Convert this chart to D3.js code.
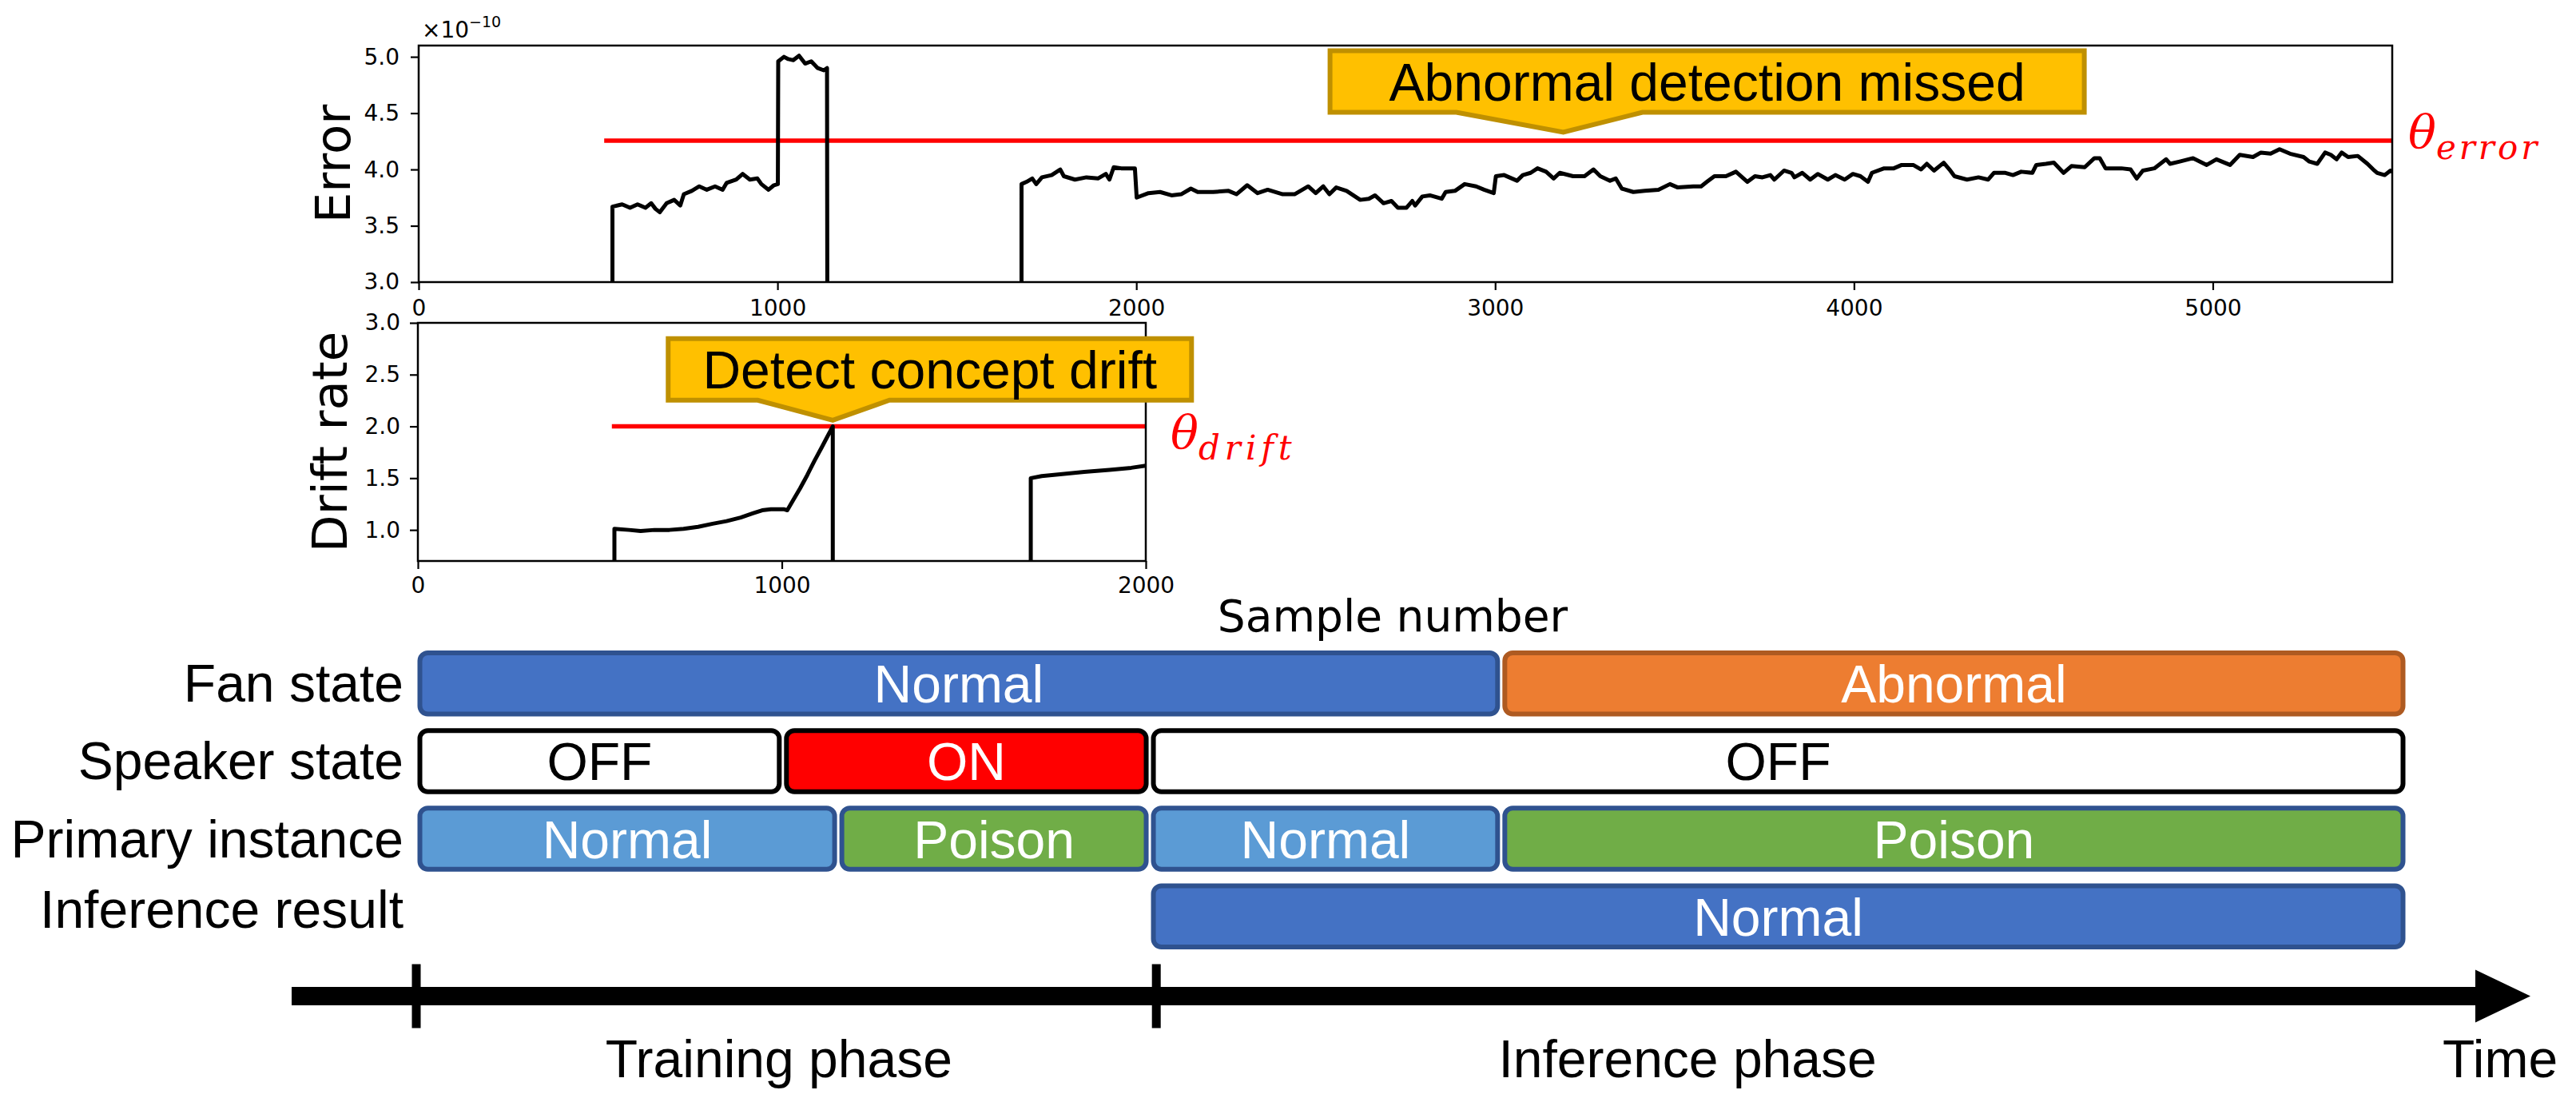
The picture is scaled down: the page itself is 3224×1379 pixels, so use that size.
<!DOCTYPE html>
<html>
<head>
<meta charset="utf-8">
<script src="https://cdn.jsdelivr.net/npm/d3@7"></script>
<style>
  html, body { margin: 0; padding: 0; background: #fff; }
  svg { display: block; }
</style>
</head>
<body>
<svg id="chart" width="3224" height="1379"></svg>
<script>
/* Error / drift-rate panels plus the phase timeline underneath. */

// ---- data ----
const sampleTicks = [0, 1000, 2000, 3000, 4000, 5000];
const errorTicks = [3.0, 3.5, 4.0, 4.5, 5.0];
const driftSampleTicks = [0, 1000, 2000];
const driftTicks = [1.0, 1.5, 2.0, 2.5, 3.0];

const errorThreshold = 4.255, errorThresholdFrom = 517;
const driftThreshold = 2.0, driftThresholdFrom = 533;

// [sample, error x1e10]; zero where the model is not running (falls below the axis)
const errorSeries = [
  [0,0],[540,0],[540,3.67],[567,3.69],[589,3.66],[610,3.69],[632,3.66],[648,3.70],[660,3.65],[672,3.62],
  [691,3.70],[712,3.73],[729,3.68],[739,3.78],[761,3.81],[782,3.85],[803,3.82],[826,3.85],[847,3.82],[858,3.88],
  [885,3.91],[903,3.96],[923,3.91],[944,3.92],[955,3.87],[975,3.82],[990,3.86],[1001,3.87],
  [1002,4.96],[1018,5.00],[1030,4.98],[1044,4.97],[1060,5.01],[1077,4.94],[1094,4.96],[1112,4.90],[1129,4.88],[1138,4.90],
  [1140,0],[1680,0],[1680,3.87],[1694,3.89],[1710,3.92],[1721,3.87],[1737,3.93],[1764,3.95],[1788,4.00],[1798,3.94],
  [1829,3.91],[1861,3.93],[1893,3.92],[1915,3.96],[1925,3.91],[1937,4.02],[1958,4.01],[1996,4.01],
  [2001,3.75],[2034,3.79],[2066,3.80],[2098,3.77],[2125,3.78],[2152,3.83],[2171,3.80],[2214,3.80],[2257,3.81],[2279,3.78],
  [2309,3.86],[2338,3.79],[2366,3.82],[2408,3.78],[2441,3.78],[2479,3.85],[2500,3.79],[2521,3.85],[2538,3.78],[2557,3.84],
  [2586,3.81],[2624,3.73],[2648,3.74],[2665,3.77],[2689,3.70],[2711,3.72],[2729,3.66],[2753,3.66],[2769,3.72],[2777,3.68],
  [2797,3.76],[2818,3.77],[2851,3.74],[2862,3.80],[2888,3.81],[2915,3.87],[2947,3.85],[2969,3.82],[2996,3.79],
  [3002,3.94],[3025,3.95],[3061,3.90],[3077,3.95],[3099,3.97],[3118,4.01],[3142,3.98],[3163,3.92],[3180,3.97],[3217,3.94],
  [3249,3.94],[3274,4.00],[3293,3.94],[3320,3.90],[3336,3.92],[3353,3.83],[3385,3.80],[3417,3.81],[3455,3.82],[3487,3.87],
  [3509,3.84],[3552,3.85],[3574,3.85],[3590,3.89],[3611,3.94],[3643,3.94],[3671,3.98],[3703,3.89],[3724,3.94],[3745,3.93],
  [3767,3.95],[3778,3.91],[3805,3.99],[3826,3.97],[3834,3.93],[3856,3.97],[3878,3.91],[3899,3.96],[3927,3.91],[3948,3.95],
  [3974,3.91],[3997,3.96],[4018,3.94],[4039,3.89],[4050,3.97],[4084,4.01],[4111,4.01],[4133,4.04],[4165,4.04],[4187,4.00],
  [4203,4.05],[4223,3.99],[4250,4.06],[4266,4.00],[4280,3.94],[4315,3.91],[4347,3.93],[4374,3.91],[4390,3.97],[4422,3.97],
  [4443,3.95],[4466,3.98],[4497,3.97],[4508,4.04],[4535,4.05],[4557,4.06],[4584,3.97],[4606,4.03],[4643,4.02],[4670,4.10],
  [4685,4.10],[4701,4.01],[4745,4.01],[4771,4.00],[4788,3.92],[4805,3.99],[4837,4.01],[4870,4.09],[4881,4.05],[4908,4.07],
  [4945,4.10],[4983,4.04],[5010,4.09],[5048,4.04],[5075,4.13],[5112,4.11],[5134,4.15],[5161,4.14],[5186,4.18],[5215,4.14],
  [5253,4.11],[5269,4.07],[5291,4.05],[5313,4.15],[5329,4.13],[5345,4.09],[5359,4.15],[5377,4.11],[5404,4.12],[5431,4.05],
  [5447,4.00],[5458,3.97],[5479,3.95],[5495,3.99],[5500,3.98]
];

const driftSeries = [
  [0,0],[540,0],[540,1.01],[580,1.00],[612,0.99],[650,1.00],[691,1.00],[730,1.01],[770,1.03],[810,1.06],
  [848,1.085],[887,1.12],[920,1.16],[946,1.19],[970,1.20],[1005,1.20],[1015,1.19],[1030,1.28],[1050,1.40],
  [1070,1.53],[1090,1.67],[1110,1.80],[1125,1.90],[1140,2.0],[1140,0],[1684,0],[1684,1.50],[1714,1.52],
  [1770,1.54],[1831,1.56],[1900,1.58],[1960,1.60],[2000,1.62]
];

// timeline rows (units: samples along the phase axis)
const rowLabels = ['Fan state', 'Speaker state', 'Primary instance', 'Inference result'];
const fanState = [{from: 0, to: 2998, state: 'Normal'}, {from: 2998, to: 5500, state: 'Abnormal'}];
const speakerState = [{from: 0, to: 1013, state: 'OFF'}, {from: 1013, to: 2027, state: 'ON'}, {from: 2027, to: 5500, state: 'OFF'}];
const primaryInstance = [{from: 0, to: 1166, state: 'Normal'}, {from: 1166, to: 2027, state: 'Poison'},
                         {from: 2027, to: 2998, state: 'Normal'}, {from: 2998, to: 5500, state: 'Poison'}];
const inferenceResult = [{from: 2027, to: 5500, state: 'Normal'}];
const phaseTicks = [0, 2045];
const phaseLabels = [{at: 1002, text: 'Training phase'}, {at: 3513, text: 'Inference phase'}];

// ---- setup ----
const W = 3224, H = 1379;
const MPL = '"DejaVu Sans", sans-serif';
const SANS = '"Liberation Sans", Arial, sans-serif';
const MATH = '"DejaVu Serif", serif';
const svg = d3.select('#chart');
svg.append('rect').attr('width', W).attr('height', H).attr('fill', '#fff');

const xErr = d3.scaleLinear().domain([0, 5500]).range([524, 2994]);
const yErr = d3.scaleLinear().domain([3.0, 5.1]).range([353, 57]);
const xDrift = d3.scaleLinear().domain([0, 2000]).range([523, 1434]);
const yDrift = d3.scaleLinear().domain([0.7, 3.0]).range([702, 404]);

function panel(id, x, y, series, xTicks, yTicks, thr, thrFrom, pad) {
  const g = svg.append('g');
  const [x0, x1] = x.range(), [y0, y1] = y.range();
  g.append('clipPath').attr('id', id)
    .append('rect').attr('x', x0).attr('y', y1).attr('width', x1 - x0).attr('height', y0 - y1);

  g.append('line')
    .attr('x1', x(thrFrom)).attr('x2', x1).attr('y1', y(thr)).attr('y2', y(thr))
    .attr('stroke', '#ff0000').attr('stroke-width', 5.5);

  g.append('path').datum(series)
    .attr('clip-path', `url(#${id})`)
    .attr('fill', 'none').attr('stroke', '#000').attr('stroke-width', 5)
    .attr('stroke-linejoin', 'round')
    .attr('d', d3.line().x(d => x(d[0])).y(d => y(d[1])));

  const bx = g.append('g').attr('transform', `translate(0,${y0})`)
    .call(d3.axisBottom(x).tickValues(xTicks).tickFormat(d3.format('d'))
      .tickSize(10).tickPadding(pad).tickSizeOuter(0));
  const ly = g.append('g').attr('transform', `translate(${x0},0)`)
    .call(d3.axisLeft(y).tickValues(yTicks).tickFormat(d3.format('.1f'))
      .tickSize(10).tickPadding(pad + 2).tickSizeOuter(0));
  [bx, ly].forEach(a => {
    a.select('.domain').remove();
    a.selectAll('line').attr('stroke', '#000').attr('stroke-width', 2.2);
    a.selectAll('text').attr('font-size', 28).attr('font-family', MPL).attr('fill', '#000');
  });

  g.append('rect').attr('x', x0).attr('y', y1).attr('width', x1 - x0).attr('height', y0 - y1)
    .attr('fill', 'none').attr('stroke', '#000').attr('stroke-width', 2.5);
  return g;
}

panel('clipErr', xErr, yErr, errorSeries, sampleTicks, errorTicks, errorThreshold, errorThresholdFrom, 12);
panel('clipDrift', xDrift, yDrift, driftSeries, driftSampleTicks, driftTicks, driftThreshold, driftThresholdFrom, 10);

// scale offset text
svg.append('text').attr('x', 528).attr('y', 47).attr('font-family', MPL).attr('font-size', 28)
  .call(t => {
    t.append('tspan').text('×10');
    t.append('tspan').attr('font-size', 19).attr('dy', -13).text('−10');
  });

// axis titles
svg.append('text').attr('transform', `translate(438,${(yErr.range()[0] + yErr.range()[1]) / 2}) rotate(-90)`)
  .attr('text-anchor', 'middle').attr('font-family', MPL).attr('font-size', 61).text('Error');
svg.append('text').attr('transform', `translate(434,${(yDrift.range()[0] + yDrift.range()[1]) / 2}) rotate(-90)`)
  .attr('text-anchor', 'middle').attr('font-family', MPL).attr('font-size', 61).text('Drift rate');
svg.append('text').attr('x', 1743).attr('y', 790).attr('text-anchor', 'middle')
  .attr('font-family', MPL).attr('font-size', 55).text('Sample number');

// threshold symbols
function theta(xPos, yPos, sub, spacing) {
  const t = svg.append('text').attr('x', xPos).attr('y', yPos)
    .attr('fill', '#ff0000').attr('font-family', MATH).attr('font-style', 'italic');
  t.append('tspan').attr('font-size', 58).text('θ');
  t.append('tspan').attr('font-size', 42).attr('dy', 14).attr('letter-spacing', spacing).text(sub);
}
theta(xErr.range()[1] + 20, yErr(errorThreshold) + 9, 'error', 4);
theta(xDrift.range()[1] + 31, yDrift(driftThreshold) + 27, 'drift', 6);

// callouts: box offsets are relative to the tip
function callout(tipX, tipY, text, box) {
  const L = tipX + box.left, R = tipX + box.right, T = tipY + box.top, B = tipY + box.bottom;
  const p = d3.path();
  p.moveTo(L, T); p.lineTo(R, T); p.lineTo(R, B);
  p.lineTo(tipX + box.baseR, B); p.lineTo(tipX, tipY); p.lineTo(tipX + box.baseL, B);
  p.lineTo(L, B); p.closePath();
  svg.append('path').attr('d', p.toString())
    .attr('fill', '#FFC000').attr('stroke', '#BF9000').attr('stroke-width', 6).attr('stroke-linejoin', 'miter');
  svg.append('text').attr('x', (L + R) / 2).attr('y', tipY + box.base)
    .attr('text-anchor', 'middle').attr('font-family', SANS).attr('font-size', 66).text(text);
}
callout(xErr(3190), yErr(4.33), 'Abnormal detection missed',
  {left: -292, right: 652, top: -102, bottom: -25, baseL: -134, baseR: 99, base: -40});
callout(xDrift(1140), yDrift(2.06), 'Detect concept drift',
  {left: -206, right: 449, top: -102, bottom: -25, baseL: -94, baseR: 71, base: -40});

// ---- timeline rows ----
const tl = d3.scaleLinear().domain([0, 5500]).range([521, 3012]);
const rowY = d3.scaleBand().domain(rowLabels).range([814, 1188]).paddingInner(0.15);
const styles = {
  'Fan state': {Normal: ['#4472C4', '#2F528F', '#fff'], Abnormal: ['#ED7D31', '#AE5A21', '#fff']},
  'Speaker state': {OFF: ['#fff', '#000', '#000'], ON: ['#FF0000', '#000', '#fff']},
  'Primary instance': {Normal: ['#5B9BD5', '#2F528F', '#fff'], Poison: ['#70AD47', '#2F528F', '#fff']},
  'Inference result': {Normal: ['#4472C4', '#2F528F', '#fff']}
};
const rows = [fanState, speakerState, primaryInstance, inferenceResult];

rowLabels.forEach((label, i) => {
  const top = rowY(label), h = rowY.bandwidth(), mid = top + h / 2;
  // the last row's caption sits a little above its bar
  svg.append('text').attr('x', 505).attr('y', mid + 23 - (i === 3 ? 9 : 0)).attr('text-anchor', 'end')
    .attr('font-family', SANS).attr('font-size', 66).text(label);

  const g = svg.append('g');
  const seg = g.selectAll('g').data(rows[i]).join('g');
  seg.append('rect')
    .attr('x', d => tl(d.from) + 4.5)
    .attr('y', top + 3)
    .attr('width', d => tl(d.to) - tl(d.from) - 9)
    .attr('height', h - 6)
    .attr('rx', 10)
    .attr('fill', d => styles[label][d.state][0])
    .attr('stroke', d => styles[label][d.state][1])
    .attr('stroke-width', 6);
  seg.append('text')
    .attr('x', d => (tl(d.from) + tl(d.to)) / 2)
    .attr('y', mid + 24)
    .attr('text-anchor', 'middle').attr('font-family', SANS).attr('font-size', 66)
    .attr('fill', d => styles[label][d.state][2])
    .text(d => d.state);
});

// ---- time arrow ----
const arrowY = 1246.5;
svg.append('path')
  .attr('d', `M365,${arrowY - 11.5}H3098V${arrowY - 33}L3167,${arrowY}L3098,${arrowY + 33}V${arrowY + 11.5}H365Z`)
  .attr('fill', '#000');
svg.selectAll('rect.phase-tick').data(phaseTicks).join('rect').attr('class', 'phase-tick')
  .attr('x', d => tl(d) - 5.5).attr('y', arrowY - 40).attr('width', 11).attr('height', 80).attr('fill', '#000');
svg.selectAll('text.phase').data(phaseLabels).join('text').attr('class', 'phase')
  .attr('x', d => tl(d.at)).attr('y', 1348).attr('text-anchor', 'middle')
  .attr('font-family', SANS).attr('font-size', 66).text(d => d.text);
svg.append('text').attr('x', 3057).attr('y', 1348).attr('font-family', SANS).attr('font-size', 66).text('Time');
</script>
</body>
</html>
